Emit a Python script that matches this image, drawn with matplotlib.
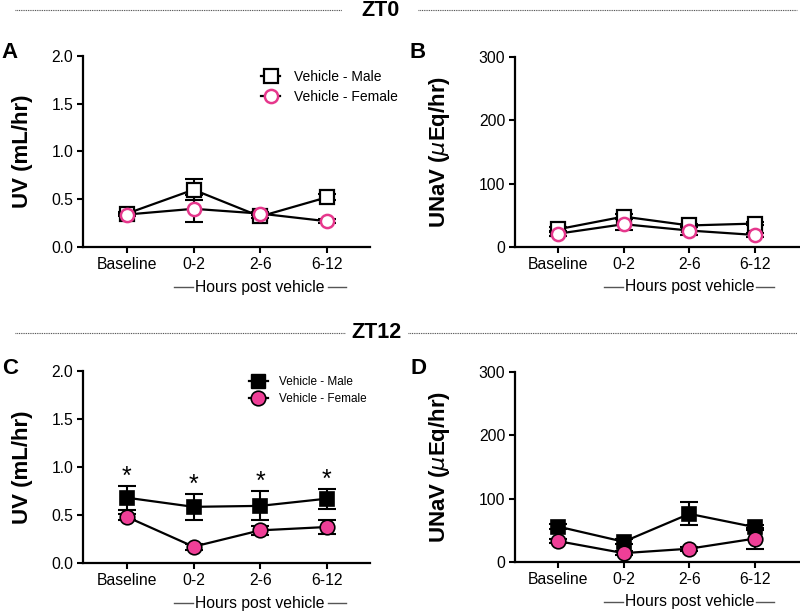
import matplotlib
matplotlib.use("Agg")
import matplotlib.pyplot as plt
from matplotlib.lines import Line2D
import matplotlib.transforms as mtransforms

plt.rcParams['font.family'] = ['Liberation Sans', 'DejaVu Sans']

categories = ["Baseline", "0-2", "2-6", "6-12"]

# Panel A: UV at ZT0
uv_zt0_male = [0.35, 0.60, 0.32, 0.52]
uv_zt0_male_sem = [0.02, 0.11, 0.02, 0.03]
uv_zt0_female = [0.34, 0.40, 0.35, 0.27]
uv_zt0_female_sem = [0.02, 0.14, 0.02, 0.02]

# Panel B: UNaV at ZT0
unav_zt0_male = [28, 48, 34, 37]
unav_zt0_male_sem = [3, 4, 3, 3]
unav_zt0_female = [21, 36, 26, 19]
unav_zt0_female_sem = [3, 9, 7, 3]

# Panel C: UV at ZT12
uv_zt12_male = [0.68, 0.585, 0.595, 0.67]
uv_zt12_male_sem = [0.125, 0.135, 0.15, 0.105]
uv_zt12_female = [0.48, 0.17, 0.34, 0.375]
uv_zt12_female_sem = [0.03, 0.03, 0.05, 0.07]

# Panel D: UNaV at ZT12
unav_zt12_male = [56, 32, 76, 55]
unav_zt12_male_sem = [4, 4, 18, 4]
unav_zt12_female = [33, 14, 21, 37]
unav_zt12_female_sem = [3, 3, 3, 17]

PINK_EDGE = '#e6378c'
PINK_FILL = '#ef3f97'
W, H = 800, 613

fig = plt.figure(figsize=(W / 100, H / 100), dpi=100)


def fax(l, t, r, b):
    return fig.add_axes([l / W, 1 - b / H, (r - l) / W, (b - t) / H])


axA = fax(83, 56, 370, 247)
axB = fax(515, 57, 799, 247)
axC = fax(83, 371, 370, 563)
axD = fax(515, 372, 799, 562)

x = list(range(len(categories)))


def draw(ax, m, ms, f, fs, filled, ylim, yticks, yfmt, ylabel, xlim, labx):
    ax.errorbar(x, m, yerr=ms, fmt='none', ecolor='black', elinewidth=1.5,
                capsize=6.5, capthick=1.5, zorder=2)
    ax.errorbar(x, f, yerr=fs, fmt='none', ecolor='black', elinewidth=1.5,
                capsize=6.5, capthick=1.5, zorder=2)
    ax.plot(x, m, '-', color='black', lw=1.6, zorder=3)
    ax.plot(x, f, '-', color='black', lw=1.6, zorder=3)
    if filled:
        ax.plot(x, m, 's', ms=10.5, mfc='black', mec='black', mew=1.2, zorder=4)
        ax.plot(x, f, 'o', ms=10.5, mfc=PINK_FILL, mec='black', mew=1.2, zorder=5)
    else:
        ax.plot(x, m, 's', ms=9.5, mfc='white', mec='black', mew=1.6, zorder=4)
        ax.plot(x, f, 'o', ms=9.5, mfc='white', mec=PINK_EDGE, mew=1.8, zorder=5)
    ax.set_ylim(*ylim)
    ax.set_yticks(yticks)
    ax.set_yticklabels([yfmt.format(v) for v in yticks])
    ax.set_xlim(*xlim)
    ax.set_xticks(x)
    ax.set_xticklabels(categories)
    for s in ['top', 'right']:
        ax.spines[s].set_visible(False)
    for s in ['left', 'bottom']:
        ax.spines[s].set_linewidth(1.6)
    ax.tick_params(axis='both', direction='out', length=4, width=1.5, labelsize=11.3, pad=3)
    ax.set_ylabel(ylabel, fontsize=16, fontweight='bold')
    ax.yaxis.set_label_coords(labx, 0.5)
    tr = mtransforms.blended_transform_factory(ax.transData, ax.transAxes)
    ax.text(2, -0.21, 'Hours post vehicle', transform=tr, ha='center', va='center', fontsize=11.3)
    ax.plot([0.70, 0.99], [-0.21, -0.21], transform=tr, color='#555555', lw=1.0, clip_on=False)
    ax.plot([3.02, 3.29], [-0.21, -0.21], transform=tr, color='#555555', lw=1.0, clip_on=False)


draw(axA, uv_zt0_male, uv_zt0_male_sem, uv_zt0_female, uv_zt0_female_sem, False,
     (0, 2.0), [0, 0.5, 1.0, 1.5, 2.0], '{:.1f}', 'UV (mL/hr)', (-0.66, 3.65), -0.175)
draw(axB, unav_zt0_male, unav_zt0_male_sem, unav_zt0_female, unav_zt0_female_sem, False,
     (0, 300), [0, 100, 200, 300], '{:.0f}', r'UNaV ($\mu$Eq/hr)', (-0.654, 3.67), -0.222)
draw(axC, uv_zt12_male, uv_zt12_male_sem, uv_zt12_female, uv_zt12_female_sem, True,
     (0, 2.0), [0, 0.5, 1.0, 1.5, 2.0], '{:.1f}', 'UV (mL/hr)', (-0.66, 3.65), -0.175)
draw(axD, unav_zt12_male, unav_zt12_male_sem, unav_zt12_female, unav_zt12_female_sem, True,
     (0, 300), [0, 100, 200, 300], '{:.0f}', r'UNaV ($\mu$Eq/hr)', (-0.654, 3.67), -0.222)

# significance stars on panel C
for xi, yi, si in zip(x, uv_zt12_male, uv_zt12_male_sem):
    axC.annotate('*', xy=(xi, yi + si), xytext=(0, -2), textcoords='offset points',
                 ha='center', va='bottom', fontsize=18)

# legends
mA = Line2D([], [], color='black', lw=1.6, marker='s', ms=9.5, mfc='white', mec='black', mew=1.6)
fA = Line2D([], [], color='black', lw=1.6, marker='o', ms=9.5, mfc='white', mec=PINK_EDGE, mew=1.8)
axA.legend([mA, fA], ['Vehicle - Male', 'Vehicle - Female'], frameon=False,
           fontsize=10, handlelength=1.4, handletextpad=1.0, labelspacing=0.45,
           borderpad=0, borderaxespad=0, loc='upper left',
           bbox_to_anchor=(261 / W, 1 - 70 / H), bbox_transform=fig.transFigure)
mC = Line2D([], [], color='black', lw=1.6, marker='s', ms=10.5, mfc='black', mec='black')
fC = Line2D([], [], color='black', lw=1.6, marker='o', ms=10.5, mfc=PINK_FILL, mec='black', mew=1.2)
axC.legend([mC, fC], ['Vehicle - Male', 'Vehicle - Female'], frameon=False,
           fontsize=8.5, handlelength=1.6, handletextpad=0.9, labelspacing=0.45,
           borderpad=0, borderaxespad=0, loc='upper left',
           bbox_to_anchor=(249 / W, 1 - 376 / H), bbox_transform=fig.transFigure)

# panel letters
for lab, px, py in [('A', 10, 53), ('B', 418, 53), ('C', 10, 369), ('D', 418, 369)]:
    fig.text(px / W, 1 - py / H, lab, ha='center', va='center', fontsize=16, fontweight='bold')


def header(text, cx, cy, l1, l2):
    fig.text(cx / W, 1 - cy / H, text, ha='center', va='center', fontsize=15.5, fontweight='bold')
    for a, b in [l1, l2]:
        fig.add_artist(Line2D([a / W, b / W], [1 - cy / H, 1 - cy / H], transform=fig.transFigure,
                              color='#444444', lw=0.8, linestyle=(0, (0.8, 0.8))))


header('ZT0', 381, 10, (15, 342), (418, 797))
header('ZT12', 377, 333, (15, 345), (408, 797))

fig.savefig('out.png', dpi=100)
